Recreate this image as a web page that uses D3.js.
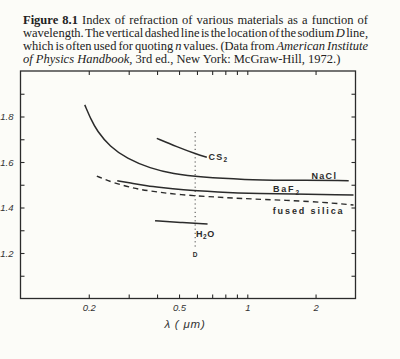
<!DOCTYPE html>
<html>
<head>
<meta charset="utf-8">
<script src="https://cdn.jsdelivr.net/npm/d3@7"></script>
<style>
  body { margin: 0; background: #fcfcf8; }
  svg { display: block; }
</style>
</head>
<body>
<svg id="drawing_region"></svg>
<script>
// wavelength (um), index of refraction
const nacl   = [[0.192,1.851],[0.205,1.785],[0.217,1.738],[0.248,1.667],[0.294,1.616],[0.373,1.572],[0.472,1.548],[0.620,1.533],[0.996,1.522],[1.40,1.520],[2.80,1.518]];
const cs2    = [[0.399,1.704],[0.489,1.667],[0.599,1.634],[0.663,1.621]];
const baf2   = [[0.267,1.518],[0.315,1.505],[0.361,1.495],[0.413,1.488],[0.506,1.478],[0.759,1.468],[0.996,1.462],[2.94,1.455]];
const silica = [[0.217,1.538],[0.257,1.508],[0.315,1.485],[0.361,1.474],[0.506,1.455],[0.759,1.445],[0.996,1.438],[1.96,1.427],[2.94,1.411]];
const h2o    = [[0.392,1.342],[0.506,1.334],[0.668,1.327]];
const sodiumD = 0.589;

const xTicks = [0.2,0.3,0.4,0.5,0.6,0.7,0.8,0.9,1,2];
const xLabels = [0.2,0.5,1,2];
const yTicks = [1.1,1.2,1.3,1.4,1.5,1.6,1.7,1.8,1.9];
const yLabels = [1.2,1.4,1.6,1.8];

const caption = [
  [{t:"Figure 8.1", b:true}, {t:" Index of refraction of various materials as a function of"}],
  [{t:"wavelength. The vertical dashed line is the location of the sodium "}, {t:"D", i:true}, {t:" line,"}],
  [{t:"which is often used for quoting "}, {t:"n", i:true}, {t:" values. (Data from "}, {t:"American Institute", i:true}],
  [{t:"of Physics Handbook,", i:true}, {t:" 3rd ed., New York: McGraw-Hill, 1972.)"}]
];

const W = 400, H = 359;
const ink = "#2b2b2b";

const svg = d3.select('#drawing_region')
    .attr('width', W)
    .attr('height', H);

// caption, justified like the book
const cap = svg.append('g')
    .attr('font-family', '"Liberation Serif", "Times New Roman", serif')
    .attr('font-size', 12.5)
    .attr('fill', '#222');

caption.forEach((line, i) => {
    const t = cap.append('text')
        .attr('x', 23)
        .attr('y', 23.5 + i * 13);
    line.forEach(s => {
        t.append('tspan')
            .attr('font-weight', s.b ? 'bold' : null)
            .attr('font-style', s.i ? 'italic' : null)
            .text(s.t);
    });
    if (i < caption.length - 1) {
        const len = t.node().getComputedTextLength();
        const spaces = line.map(s => s.t).join('').split(' ').length - 1;
        t.attr('word-spacing', (368 - 23 - len) / spaces);
    }
});

const x = d3.scaleLog().domain([0.1, 3]).range([20.5, 355.5]);
const y = d3.scaleLinear().domain([1.0, 2.0]).range([298.5, 71]);

const chart = svg.append('g');

chart.append('rect')
    .attr('x', x.range()[0])
    .attr('y', y.range()[1])
    .attr('width', x.range()[1] - x.range()[0])
    .attr('height', y.range()[0] - y.range()[1])
    .attr('fill', 'none')
    .attr('stroke', ink)
    .attr('stroke-width', 1.3);

const fmtX = d => xLabels.includes(d) ? String(d) : "";
const fmtY = d => yLabels.some(v => Math.abs(v - d) < 1e-6) ? d.toFixed(1) : "";

const axes = [
    chart.append('g').attr('transform', `translate(0,${y.range()[0]})`)
        .call(d3.axisBottom(x).tickValues(xTicks).tickFormat(fmtX).tickSize(-4).tickPadding(6)),
    chart.append('g').attr('transform', `translate(0,${y.range()[1]})`)
        .call(d3.axisTop(x).tickValues(xTicks).tickFormat("").tickSize(-4)),
    chart.append('g').attr('transform', `translate(${x.range()[0]},0)`)
        .call(d3.axisLeft(y).tickValues(yTicks).tickFormat(fmtY).tickSize(-4).tickPadding(7)),
    chart.append('g').attr('transform', `translate(${x.range()[1]},0)`)
        .call(d3.axisRight(y).tickValues(yTicks).tickFormat("").tickSize(-4))
];
axes.forEach(a => {
    a.select('.domain').remove();
    a.selectAll('line').attr('stroke', ink).attr('stroke-width', 1.1);
    a.selectAll('text')
        .attr('fill', '#333')
        .attr('font-family', '"Liberation Sans", Arial, sans-serif')
        .attr('font-style', 'italic')
        .attr('font-size', 9.5);
});

// sodium D line
chart.append('line')
    .attr('x1', x(sodiumD)).attr('x2', x(sodiumD))
    .attr('y1', 132).attr('y2', 248)
    .attr('stroke', '#444')
    .attr('stroke-width', 1)
    .attr('stroke-dasharray', '1.2,3');

const line = d3.line()
    .x(d => x(d[0]))
    .y(d => y(d[1]))
    .curve(d3.curveBasis);

[nacl, cs2, baf2, h2o].forEach(s => {
    chart.append('path')
        .attr('d', line(s))
        .attr('fill', 'none')
        .attr('stroke', ink)
        .attr('stroke-width', 1.5);
});
chart.append('path')
    .attr('d', line(silica))
    .attr('fill', 'none')
    .attr('stroke', ink)
    .attr('stroke-width', 1.4)
    .attr('stroke-dasharray', '5.5,4');

// curve labels
const lab = chart.append('g')
    .attr('font-family', '"Liberation Sans", Arial, sans-serif')
    .attr('font-weight', 'bold')
    .attr('font-size', 9)
    .attr('fill', ink);

function label(px, py, parts, spacing) {
    const t = lab.append('text').attr('x', px).attr('y', py).attr('letter-spacing', spacing);
    parts.forEach(p => {
        if (p.sub) {
            t.append('tspan').attr('font-size', 6.5).attr('dy', 2.5).text(p.t);
        } else {
            t.append('tspan').attr('dy', p.up ? -2.5 : null).text(p.t);
        }
    });
    return t;
}

label(208.5, 159.5, [{t:"CS"}, {t:"2", sub:true}], 1.2);
label(311.5, 179, [{t:"NaCl"}], 1.3);
label(273, 192, [{t:"BaF"}, {t:"2", sub:true}], 1.8);
label(272.7, 213.5, [{t:"fused  silica"}], 1.9);
label(196, 236.5, [{t:"H"}, {t:"2", sub:true}, {t:"O", up:true}], 0.6);
lab.append('text')
    .attr('x', x(sodiumD)).attr('y', 257)
    .attr('text-anchor', 'middle')
    .attr('font-size', 6.5)
    .text('D');

// axis title
svg.append('text')
    .attr('x', 185)
    .attr('y', 328)
    .attr('text-anchor', 'middle')
    .attr('font-family', '"Liberation Sans", Arial, sans-serif')
    .attr('font-style', 'italic')
    .attr('font-size', 11.5)
    .attr('fill', '#333')
    .attr('letter-spacing', 0.8)
    .text('λ ( μm)');
</script>
</body>
</html>
